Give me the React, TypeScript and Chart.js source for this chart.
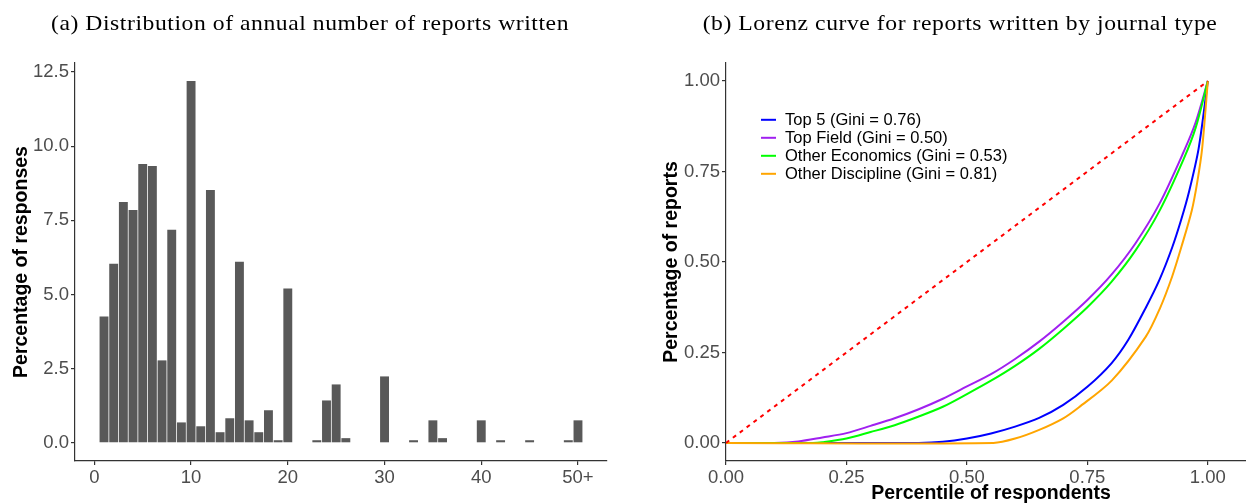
import React, { useEffect, useRef } from "react";
import { Chart, registerables } from "chart.js";

Chart.register(...registerables);

// ---------- Panel (a): histogram ----------
const reportCounts = [1, 2, 3, 4, 5, 6, 7, 8, 9, 10, 11, 12, 13, 14, 15, 16, 17, 18, 19, 20, 23, 24, 25, 26, 30, 33, 35, 36, 40, 42, 45, 49, 50];
const responseShares = [4.26, 6.04, 8.12, 7.85, 9.4, 9.33, 2.78, 7.18, 0.69, 12.19, 0.56, 8.52, 0.36, 0.83, 6.1, 0.76, 0.36, 1.1, 0.09, 5.2, 0.09, 1.43, 1.97, 0.16, 2.24, 0.09, 0.76, 0.16, 0.76, 0.09, 0.09, 0.09, 0.76];
const histXTicks = [0, 10, 20, 30, 40, 50];
const histXTickLabels = ["0", "10", "20", "30", "40", "50+"];
const histYTicks = [0, 2.5, 5, 7.5, 10, 12.5];
const histCaption = "(a) Distribution of annual number of reports written";

// ---------- Panel (b): Lorenz curves ----------
const lorenzCaption = "(b) Lorenz curve for reports written by journal type";
const seriesLabels = [
  "Top 5 (Gini = 0.76)",
  "Top Field (Gini = 0.50)",
  "Other Economics (Gini = 0.53)",
  "Other Discipline (Gini = 0.81)",
];
const seriesColors = ["#0000FF", "#A020F0", "#00FF00", "#FFA500"];

const top5Pct = [0, 0.4, 0.45, 0.5, 0.55, 0.6, 0.65, 0.7, 0.75, 0.8, 0.835, 0.871, 0.9, 0.926, 0.945, 0.961, 0.981, 1.0];
const top5Share = [0, 0, 0.003, 0.012, 0.026, 0.045, 0.069, 0.105, 0.155, 0.22, 0.285, 0.373, 0.452, 0.54, 0.618, 0.694, 0.814, 1.0];

const topFieldPct = [0, 0.1, 0.15, 0.2, 0.25, 0.3, 0.35, 0.4, 0.45, 0.5, 0.55, 0.6, 0.65, 0.7, 0.75, 0.8, 0.85, 0.9, 0.95, 0.975, 1.0];
const topFieldShare = [0, 0, 0.004, 0.015, 0.027, 0.047, 0.068, 0.093, 0.122, 0.156, 0.19, 0.232, 0.28, 0.335, 0.395, 0.465, 0.552, 0.662, 0.805, 0.887, 1.0];

const otherEconPct = [0, 0.18, 0.2, 0.25, 0.3, 0.35, 0.4, 0.45, 0.5, 0.55, 0.6, 0.65, 0.7, 0.75, 0.8, 0.85, 0.9, 0.95, 0.975, 1.0];
const otherEconShare = [0, 0, 0.002, 0.012, 0.03, 0.049, 0.073, 0.1, 0.135, 0.172, 0.213, 0.26, 0.315, 0.375, 0.445, 0.532, 0.642, 0.785, 0.872, 1.0];

const otherDiscPct = [0, 0.555, 0.6, 0.65, 0.7, 0.732, 0.801, 0.871, 0.9, 0.926, 0.947, 0.967, 0.978, 0.988, 1.0];
const otherDiscShare = [0, 0, 0.012, 0.036, 0.068, 0.098, 0.173, 0.293, 0.37, 0.46, 0.55, 0.644, 0.72, 0.811, 1.0];

const equalityLine = [0, 1];
const lorenzTicks = [0, 0.25, 0.5, 0.75, 1.0];

const SANS = '"Liberation Sans", Arial, Helvetica, sans-serif';
const SERIF = '"Liberation Serif", "Times New Roman", serif';
const TICK_COLOR = "#4D4D4D";
const AXIS_COLOR = "#333333";

const zip = (xs: number[], ys: number[]) => xs.map((x, i) => ({ x, y: ys[i] }));

const axisCommon = (ticks: number[], fmt: (v: number) => string) => ({
  border: { display: true, color: AXIS_COLOR, width: 1.2 },
  grid: {
    display: true,
    offset: false,
    drawOnChartArea: false,
    drawTicks: true,
    tickLength: 4,
    color: AXIS_COLOR,
    lineWidth: 1.2,
  },
  ticks: {
    color: TICK_COLOR,
    font: { family: SANS, size: 18.5 },
    padding: 2,
    autoSkip: false,
    maxRotation: 0,
    callback: (v: any) => fmt(Number(v)),
  },
  afterBuildTicks: (axis: any) => {
    axis.ticks = ticks.map((value) => ({ value }));
  },
});

const insideLegend = {
  id: "insideLegend",
  afterDraw(chart: any) {
    const { ctx, chartArea } = chart;
    ctx.save();
    ctx.font = `16.5px ${SANS}`;
    ctx.textBaseline = "middle";
    ctx.textAlign = "left";
    seriesLabels.forEach((label, i) => {
      const y = chartArea.top + 56.8 + i * 18;
      const x0 = chartArea.left + 35;
      ctx.strokeStyle = seriesColors[i];
      ctx.lineWidth = 2;
      ctx.beginPath();
      ctx.moveTo(x0, y);
      ctx.lineTo(x0 + 15, y);
      ctx.stroke();
      ctx.fillStyle = "#000000";
      ctx.fillText(label, x0 + 24, y + 0.5);
    });
    ctx.restore();
  },
};

function HistogramChart() {
  const ref = useRef<HTMLCanvasElement | null>(null);
  useEffect(() => {
    if (!ref.current) return;
    const chart = new Chart(ref.current, {
      type: "bar",
      data: {
        datasets: [
          {
            data: zip(reportCounts, responseShares),
            backgroundColor: "#595959",
            borderWidth: 0,
            categoryPercentage: 1,
            barPercentage: 0.92,
          } as any,
        ],
      },
      options: {
        animation: false,
        responsive: false,
        maintainAspectRatio: false,
        devicePixelRatio: 1,
        layout: { padding: { left: 0, right: 13, top: 63, bottom: 0 } },
        plugins: {
          legend: { display: false },
          tooltip: { enabled: false },
          title: { display: false },
        },
        scales: {
          x: {
            type: "linear",
            min: -2,
            max: 53,
            offset: false,
            ...axisCommon(histXTicks, (v) => histXTickLabels[histXTicks.indexOf(v)] ?? String(v)),
            afterFit: (s: any) => {
              s.height = 42;
            },
          } as any,
          y: {
            type: "linear",
            min: -0.61,
            max: 12.8,
            ...axisCommon(histYTicks, (v) => v.toFixed(1)),
            title: {
              display: true,
              text: "Percentage of responses",
              color: "#000000",
              font: { family: SANS, size: 19.5, weight: "bold", lineHeight: 1.2 },
              padding: { top: 9.5, bottom: 0 },
            },
            afterFit: (s: any) => {
              s.width = 75;
            },
          } as any,
        },
      },
    });
    return () => chart.destroy();
  }, []);
  return <canvas ref={ref} width={620} height={503} style={{ position: "absolute", left: 0, top: 0 }} />;
}

function LorenzChart() {
  const ref = useRef<HTMLCanvasElement | null>(null);
  useEffect(() => {
    if (!ref.current) return;
    const pctArrays = [top5Pct, topFieldPct, otherEconPct, otherDiscPct];
    const shareArrays = [top5Share, topFieldShare, otherEconShare, otherDiscShare];
    const curveOrder = [4, 3, 2, 1];
    const curves = seriesLabels.map((label, i) => ({
      label,
      data: zip(pctArrays[i], shareArrays[i]),
      borderColor: seriesColors[i],
      borderWidth: 2,
      pointRadius: 0,
      fill: false,
      tension: 0.3,
      order: curveOrder[i],
    }));
    const chart = new Chart(ref.current, {
      type: "line",
      data: {
        datasets: [
          ...curves,
          {
            label: "Equality",
            data: zip(equalityLine, equalityLine),
            borderColor: "#FF0000",
            borderWidth: 2,
            borderDash: [4, 4.6],
            pointRadius: 0,
            fill: false,
            order: 0,
          },
        ] as any,
      },
      options: {
        animation: false,
        responsive: false,
        maintainAspectRatio: false,
        devicePixelRatio: 1,
        layout: { padding: { left: 0, right: 24, top: 63, bottom: 0 } },
        plugins: {
          legend: { display: false },
          tooltip: { enabled: false },
          title: { display: false },
        },
        scales: {
          x: {
            type: "linear",
            min: 0,
            max: 1.1,
            ...axisCommon(lorenzTicks, (v) => v.toFixed(2)),
            title: {
              display: true,
              text: "Percentile of respondents",
              color: "#000000",
              font: { family: SANS, size: 19.5, weight: "bold", lineHeight: 1.0 },
              padding: { top: 0, bottom: 0 },
            },
            afterFit: (s: any) => {
              s.height = 42;
            },
          } as any,
          y: {
            type: "linear",
            min: -0.05,
            max: 1.05,
            ...axisCommon(lorenzTicks, (v) => v.toFixed(2)),
            title: {
              display: true,
              text: "Percentage of reports",
              color: "#000000",
              font: { family: SANS, size: 19.5, weight: "bold", lineHeight: 1.2 },
              padding: { top: 20, bottom: 0 },
            },
            afterFit: (s: any) => {
              s.width = 86;
            },
          } as any,
        },
      },
      plugins: [insideLegend],
    });
    return () => chart.destroy();
  }, []);
  return <canvas ref={ref} width={640} height={503} style={{ position: "absolute", left: 640, top: 0 }} />;
}

const captionStyle = (center: number): React.CSSProperties => ({
  position: "absolute",
  left: center - 310,
  top: 10,
  width: 620,
  height: 26,
  lineHeight: "26px",
  textAlign: "center",
  whiteSpace: "nowrap",
  fontFamily: SERIF,
  fontSize: 21,
  letterSpacing: "0.5px",
  color: "#000000",
  transform: "scaleX(1.125)",
  transformOrigin: "center",
});

export default function App() {
  return (
    <div
      style={{
        position: "fixed",
        left: 0,
        top: 0,
        width: 1246,
        height: 503,
        overflow: "hidden",
        background: "#ffffff",
      }}
    >
      <HistogramChart />
      <LorenzChart />
      <div style={captionStyle(310)}>{histCaption}</div>
      <div style={captionStyle(960)}>{lorenzCaption}</div>
    </div>
  );
}
